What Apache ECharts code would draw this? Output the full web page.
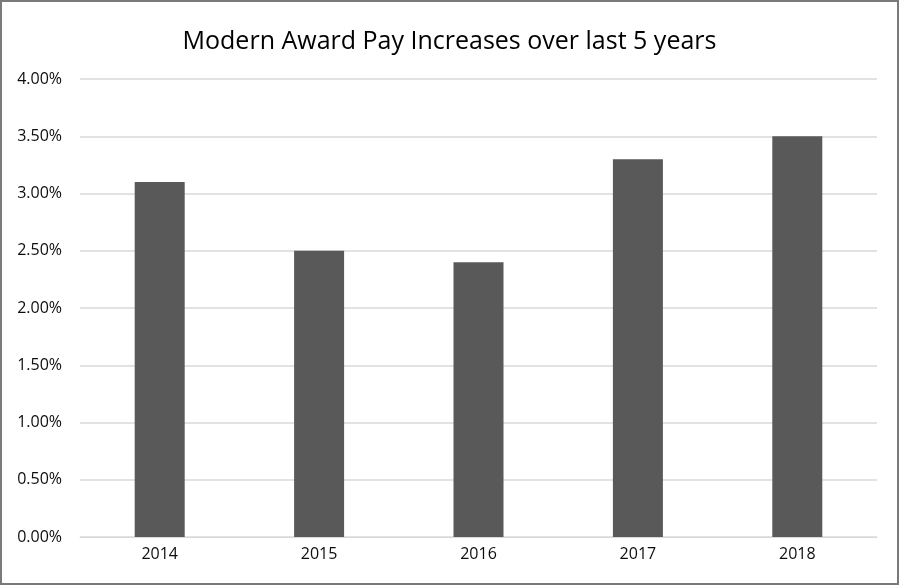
<!DOCTYPE html>
<html><head><meta charset="utf-8">
<script src="https://cdn.jsdelivr.net/npm/echarts@6/dist/echarts.min.js"></script>
<style>
html,body{margin:0;padding:0;background:#fff;}
#c{position:absolute;left:0;top:0;width:895px;height:581px;border:2px solid #7a7a7a;}
</style></head>
<body><div id="c"></div>
<script>
const categories = ['2014','2015','2016','2017','2018'];
const values = [3.1, 2.5, 2.4, 3.3, 3.5];
const yTicks = {min:0, max:4, interval:0.5};
const chart = echarts.init(document.getElementById('c'));
chart.setOption({
  animation:false,
  title:{text:'Modern Award Pay Increases over last 5 years', left:'center', top:22,
    textStyle:{fontFamily:'Open Sans', fontSize:25, fontWeight:'normal', color:'#000'}},
  grid:{left:78, right:20, top:77, bottom:46},
  xAxis:{type:'category', data:categories,
    axisLine:{lineStyle:{color:'#d9d9d9'}}, axisTick:{show:false},
    axisLabel:{color:'#0d0d0d', fontFamily:'Open Sans', fontSize:16, margin:9}},
  yAxis:{type:'value', min:yTicks.min, max:yTicks.max, interval:yTicks.interval,
    axisLine:{show:false}, axisTick:{show:false},
    splitLine:{lineStyle:{color:'#d9d9d9', width:1.5}},
    axisLabel:{color:'#0d0d0d', fontFamily:'Open Sans', fontSize:16, margin:18,
      formatter:v=>v.toFixed(2)+'%'}},
  series:[{type:'bar', data:values, barWidth:50, itemStyle:{color:'#595959'}}]
});
</script></body></html>
